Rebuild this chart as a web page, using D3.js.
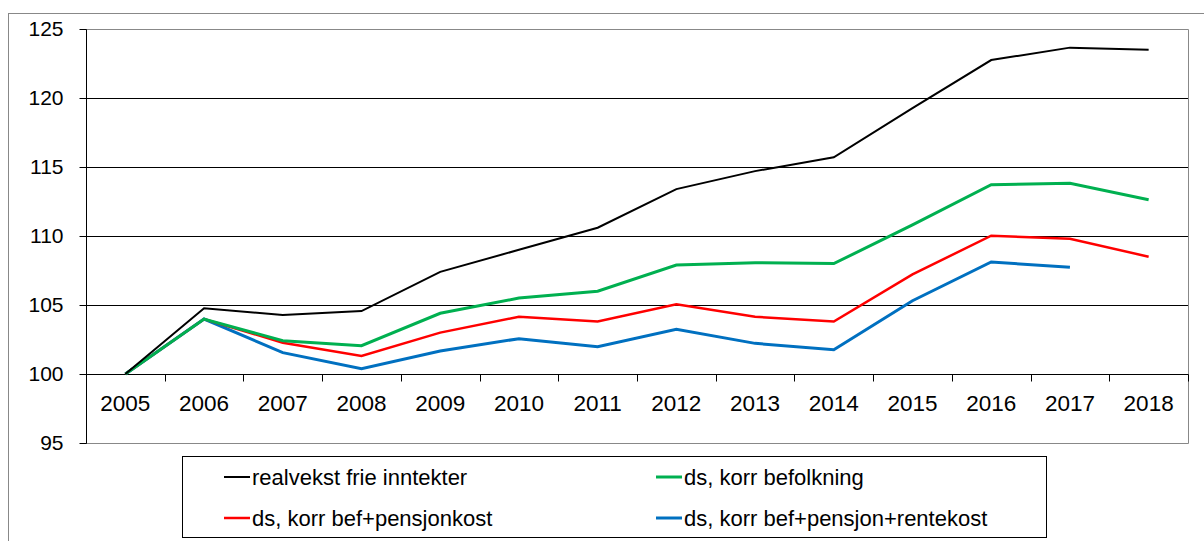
<!DOCTYPE html>
<html>
<head>
<meta charset="utf-8">
<script src="https://cdn.jsdelivr.net/npm/d3@7"></script>
<style>
  body { margin: 0; background: #fff; }
  svg { display: block; font-family: "Liberation Sans", Arial, sans-serif; }
</style>
</head>
<body>
<svg id="chart" width="1204" height="541"></svg>
<script>
// years on the x axis
var years = ["2005","2006","2007","2008","2009","2010","2011","2012","2013","2014","2015","2016","2017","2018"];

// series (index 2005 = 100)
var realvekst = [100, 104.76, 104.28, 104.56, 107.4, 109.0, 110.6, 113.4, 114.7, 115.7, 119.27, 122.75, 123.65, 123.5];
var korrBef = [100, 103.98, 102.41, 102.05, 104.4, 105.5, 106.0, 107.9, 108.07, 108.0, 110.8, 113.72, 113.82, 112.63];
var korrPensjon = [100, 103.98, 102.27, 101.3, 103.0, 104.15, 103.8, 105.05, 104.15, 103.8, 107.22, 110.02, 109.8, 108.5];
var korrRente = [100, 103.98, 101.55, 100.38, 101.67, 102.56, 101.98, 103.24, 102.22, 101.76, 105.31, 108.12, 107.73, null];

var yTicks = [95, 100, 105, 110, 115, 120, 125];

var series = [
  { name: "realvekst frie inntekter", values: realvekst, color: "#000000", width: 2 },
  { name: "ds, korr befolkning", values: korrBef, color: "#00B050", width: 3 },
  { name: "ds, korr bef+pensjonkost", values: korrPensjon, color: "#FF0000", width: 2.5 },
  { name: "ds, korr bef+pensjon+rentekost", values: korrRente, color: "#0070C0", width: 3 }
];

var svg = d3.select("#chart");
var plotLeft = 86, plotRight = 1188, plotTop = 29, plotBottom = 443;

// outer chart border (runs off the right and bottom edge)
svg.append("rect")
  .attr("x", 8.5).attr("y", 13.5)
  .attr("width", 1300).attr("height", 600)
  .attr("fill", "none").attr("stroke", "#888").attr("stroke-width", 1);

var x = d3.scaleBand().domain(years).range([plotLeft, plotRight]);
var y = d3.scaleLinear().domain([95, 125]).range([plotBottom, plotTop]);

// gridlines
svg.append("g")
  .selectAll("line")
  .data(yTicks.filter(function (d) { return d !== 95 && d !== 125 && d !== 100; }))
  .join("line")
    .attr("x1", plotLeft).attr("x2", plotRight)
    .attr("y1", function (d) { return Math.round(y(d)) + 0.5; })
    .attr("y2", function (d) { return Math.round(y(d)) + 0.5; })
    .attr("stroke", "#000").attr("stroke-width", 1);

// plot border top / right / bottom
svg.append("path")
  .attr("d", "M" + plotLeft + "," + (plotTop + 0.5) + "H" + (plotRight + 0.5) + "V" + (plotBottom + 0.5) + "H" + plotLeft)
  .attr("fill", "none").attr("stroke", "#888").attr("stroke-width", 1);

// y axis
var yAxis = svg.append("g")
  .attr("transform", "translate(" + (plotLeft + 0.5) + ",0.5)")
  .call(d3.axisLeft(y).tickValues(yTicks).tickSize(7).tickPadding(16).tickFormat(d3.format("d")));
yAxis.select(".domain").attr("stroke", "#000").attr("d", "M0," + plotTop + "V" + plotBottom);
yAxis.selectAll(".tick line").attr("stroke", "#000");
yAxis.selectAll(".tick text")
  .attr("font-size", 21).attr("fill", "#000")
  .attr("font-family", "'Liberation Sans', Arial, sans-serif");
yAxis.selectAll(".tick").attr("transform", function (d) { return "translate(0," + Math.round(y(d)) + ")"; });

// x axis at 100, ticks on category boundaries
var xAxisY = Math.round(y(100)) + 0.5;
svg.append("line")
  .attr("x1", plotLeft).attr("x2", plotRight + 0.5)
  .attr("y1", xAxisY).attr("y2", xAxisY)
  .attr("stroke", "#000");
svg.append("g")
  .selectAll("line")
  .data(years.slice(1).map(function (d) { return x(d); }).concat([plotRight]))
  .join("line")
    .attr("x1", function (d) { return Math.round(d) + 0.5; })
    .attr("x2", function (d) { return Math.round(d) + 0.5; })
    .attr("y1", xAxisY).attr("y2", xAxisY + 7)
    .attr("stroke", "#000");
svg.append("g")
  .selectAll("text")
  .data(years)
  .join("text")
    .attr("x", function (d) { return x(d) + x.bandwidth() / 2; })
    .attr("y", 410.5)
    .attr("text-anchor", "middle")
    .attr("font-size", 22.5)
    .text(function (d) { return d; });

// lines
var line = d3.line()
  .defined(function (d) { return d != null; })
  .x(function (d, i) { return x(years[i]) + x.bandwidth() / 2; })
  .y(function (d) { return y(d); });

svg.append("g")
  .selectAll("path")
  .data(series.slice().reverse())
  .join("path")
    .attr("d", function (s) { return line(s.values); })
    .attr("fill", "none")
    .attr("stroke", function (s) { return s.color; })
    .attr("stroke-width", function (s) { return s.width; })
    .attr("stroke-linejoin", "miter");

// legend
var legend = svg.append("g");
legend.append("rect")
  .attr("x", 182.5).attr("y", 456.5)
  .attr("width", 864).attr("height", 81)
  .attr("fill", "#fff").attr("stroke", "#000");

var legendPos = [[224, 477], [656, 477], [224, 518], [656, 518]];
var items = legend.selectAll("g.item")
  .data(series)
  .join("g")
    .attr("class", "item")
    .attr("transform", function (s, i) { return "translate(" + legendPos[i][0] + "," + legendPos[i][1] + ")"; });
items.append("line")
  .attr("x1", 0).attr("x2", 26).attr("y1", 0).attr("y2", 0)
  .attr("stroke", function (s) { return s.color; })
  .attr("stroke-width", function (s) { return s.width; });
items.append("text")
  .attr("x", 28).attr("y", 8)
  .attr("font-size", 22)
  .text(function (s) { return s.name; });
</script>
</body>
</html>
